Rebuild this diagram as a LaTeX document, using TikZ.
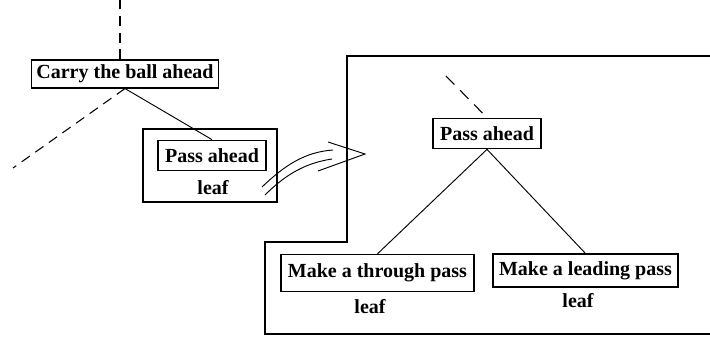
\documentclass[tikz,border=0pt]{standalone}
\usepackage{fontspec}
\setmainfont{Liberation Serif}
\usepackage{tikz}
\usetikzlibrary{positioning}

\tikzset{
  goal/.style={draw, line width=0.8pt, inner xsep=4pt, inner ysep=0pt,
    font=\fontsize{15}{18}\selectfont\bfseries},
  tag/.style={font=\fontsize{15}{18}\selectfont\bfseries},
  branch/.style={line width=0.7pt},
  stub/.style={line width=0.8pt, dash pattern=on 7.5pt off 5pt},
  frame/.style={line width=2.2pt}
}

\begin{document}
\begin{tikzpicture}[x=0.75pt, y=-0.75pt]
\useasboundingbox (0,0) rectangle (710,336);
% left tree
\node[goal, minimum width=139.5pt, minimum height=21pt] (carry) at (125,74) {Carry the ball ahead};
\node[draw, frame, minimum width=100.5pt, minimum height=54.75pt] (box) at (210,165.5) {};
\node[goal, minimum width=81pt, minimum height=23pt] (pass) at (212,155.5) {Pass ahead};
\node[tag] (leaf) at (213,188) {leaf};
\coordinate (up1) at (120,0);
\coordinate (left1) at (13,168);
\draw[stub] (carry.north -| up1) -- (up1);
\draw[stub] (carry.south) -- (left1);
\draw[branch] (carry.south) -- (pass.north);
% expanded subtree
\draw[frame] (712,56) -- (347,56) -- (347,242) -- (265,242) -- (265,334) -- (712,334);
\node[goal, minimum width=81pt, minimum height=23pt] (rpass) at (487,133.5) {Pass ahead};
\node[goal, minimum width=144.75pt, minimum height=28pt] (through) at (377.5,273) {Make a through pass};
\node[goal, minimum width=138.75pt, minimum height=24.75pt] (leading) at (585.5,270.5) {Make a leading pass};
\node[tag] (leaf2) at (370,307) {leaf};
\node[tag] (leaf3) at (578,301) {leaf};
\coordinate (up2) at (446,76);
\draw[stub, dash pattern=on 9pt off 6pt] (up2) -- (rpass.north);
\draw[branch] (rpass.south) -- (through.north);
\draw[branch] (rpass.south) -- (leading.north);
% hollow arrow
\coordinate (s1) at (262,187);
\coordinate (e1) at (333,150);
\coordinate (s2) at (265,195);
\coordinate (e2) at (332,159);
\coordinate (tip) at (365,154);
\draw[branch] (s1) .. controls (285,165) and (305,152) .. (e1);
\draw[branch] (s2) .. controls (285,175) and (305,163) .. (e2);
\draw[branch] (328,142) -- (tip) -- (318,171);
\end{tikzpicture}
\end{document}
